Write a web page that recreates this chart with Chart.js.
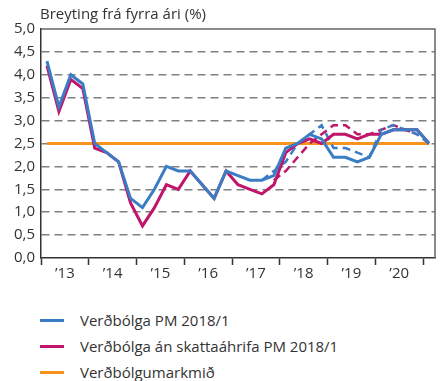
<!DOCTYPE html>
<html>
<head>
<meta charset="utf-8">
<script src="https://cdn.jsdelivr.net/npm/chart.js@4"></script>
<style>
  body { margin: 0; background: #fff; font-family: "Open Sans", sans-serif; }
  #wrap { position: relative; width: 440px; height: 292px; }
  #legend { margin: 15px 0 0 40px; }
  .item { display: flex; align-items: center; height: 26px; font-size: 15px; color: #333; }
  .swatch { width: 24px; height: 3px; margin-right: 16px; }
</style>
</head>
<body>
<div id="wrap"><canvas id="chart"></canvas></div>
<div id="legend"></div>
<script>
// 2013Q1 - 2021Q1, quarterly
const quarters = [
  '2013Q1','2013Q2','2013Q3','2013Q4','2014Q1','2014Q2','2014Q3','2014Q4',
  '2015Q1','2015Q2','2015Q3','2015Q4','2016Q1','2016Q2','2016Q3','2016Q4',
  '2017Q1','2017Q2','2017Q3','2017Q4','2018Q1','2018Q2','2018Q3','2018Q4',
  '2019Q1','2019Q2','2019Q3','2019Q4','2020Q1','2020Q2','2020Q3','2020Q4',
  '2021Q1'
];
const yearLabels = ['\u201913','\u201914','\u201915','\u201916','\u201917','\u201918','\u201919','\u201920'];

const inflation = [4.3, 3.3, 4.0, 3.8, 2.5, 2.3, 2.1, 1.3, 1.1, 1.5, 2.0, 1.9, 1.9, 1.6, 1.3, 1.9,
  1.8, 1.7, 1.7, 1.8, 2.4, 2.5, 2.7, 2.6, 2.2, 2.2, 2.1, 2.2, 2.7, 2.8, 2.8, 2.8, 2.5];
const inflationExTax = [4.2, 3.2, 3.9, 3.7, 2.4, 2.3, 2.1, 1.2, 0.7, 1.1, 1.6, 1.5, 1.9, 1.6, 1.3, 1.9,
  1.6, 1.5, 1.4, 1.6, 2.3, 2.5, 2.6, 2.5, 2.7, 2.7, 2.6, 2.7, 2.7, 2.8, 2.8, 2.8, 2.5];
// previous forecast (dashed)
const inflationPrev = [null, null, null, null, null, null, null, null, null, null, null, null, null, null, null, null,
  null, null, 1.7, 1.9, 2.1, 2.5, 2.7, 2.9, 2.4, 2.4, 2.3, 2.2, 2.8, 2.9, 2.8, 2.7, 2.5];
const inflationExTaxPrev = [null, null, null, null, null, null, null, null, null, null, null, null, null, null, null, null,
  null, null, null, 1.7, 1.9, 2.2, 2.5, 2.7, 2.9, 2.9, 2.7, 2.7, 2.8, 2.9, 2.8, 2.7, null];
const target = quarters.map(() => 2.5);

const BLUE = '#3a7dc4';
const RED = '#c0156b';
const ORANGE = '#f7941d';

// points sit in the middle of each quarter
const pts = arr => arr.map((v, i) => ({ x: i + 0.5, y: v }));

Chart.defaults.font.family = '"Open Sans", sans-serif';
Chart.defaults.font.size = 15;
Chart.defaults.color = '#333';

const frame = {
  id: 'frame',
  afterDatasetsDraw(chart) {
    const { ctx, chartArea: a } = chart;
    ctx.save();
    ctx.strokeStyle = '#666';
    ctx.lineWidth = 1.5;
    ctx.beginPath();
    ctx.moveTo(a.left, a.top);
    ctx.lineTo(a.right, a.top);
    ctx.lineTo(a.right, a.bottom);
    ctx.stroke();
    ctx.fillStyle = '#333';
    ctx.font = '15px "Open Sans", sans-serif';
    ctx.textBaseline = 'middle';
    ctx.fillText('Breyting frá fyrra ári (%)', a.left - 1, 15);
    ctx.restore();
  }
};

const line = (label, data, color, dashed, width) => ({
  label, data: pts(data), borderColor: color, borderWidth: width || 3,
  borderDash: dashed ? [8, 5] : [], pointRadius: 0, fill: false, tension: 0,
  spanGaps: false
});

new Chart(document.getElementById('chart'), {
  type: 'line',
  data: {
    datasets: [
      line('Verðbólga PM 2018/1', inflation, BLUE),
      line('Verðbólga án skattaáhrifa PM 2018/1', inflationExTax, RED),
      line('Verðbólga PM 2017/4', inflationPrev, BLUE, true, 2.5),
      line('Verðbólga án skattaáhrifa PM 2017/4', inflationExTaxPrev, RED, true, 2.5),
      line('Verðbólgumarkmið', target, ORANGE)
    ]
  },
  plugins: [frame],
  options: {
    responsive: true,
    maintainAspectRatio: false,
    animation: false,
    layout: { padding: { top: 29, right: 5, bottom: 9, left: 0 } },
    plugins: { legend: { display: false }, tooltip: { enabled: false } },
    scales: {
      x: {
        type: 'linear',
        min: 0,
        max: quarters.length,
        afterBuildTicks: s => {
          const t = [];
          for (let v = 0; v < quarters.length; v += 2) t.push({ value: v });
          s.ticks = t;
        },
        ticks: {
          autoSkip: false, maxRotation: 0, padding: 0,
          callback: v => (v % 4 === 2 ? yearLabels[(v - 2) / 4] : '')
        },
        grid: {
          drawOnChartArea: false, tickLength: 7, tickWidth: 1.5,
          tickColor: c => (c.tick && c.tick.value % 4 === 0 ? '#333' : 'rgba(0,0,0,0)')
        },
        border: { color: '#333', width: 1.5 }
      },
      y: {
        min: 0,
        max: 5,
        afterFit: s => { s.width = 41; },
        ticks: {
          stepSize: 0.5, padding: 6,
          callback: v => v.toFixed(1).replace('.', ',')
        },
        grid: {
          drawTicks: false, lineWidth: 1.5,
          color: c => (c.tick && (c.tick.value === 0 || c.tick.value === 5) ? 'rgba(0,0,0,0)' : '#808080')
        },
        border: { color: '#333', width: 1.5, dash: [8, 5] }
      }
    }
  }
});

// legend, three main series
const legendItems = [
  ['Verðbólga PM 2018/1', BLUE],
  ['Verðbólga án skattaáhrifa PM 2018/1', RED],
  ['Verðbólgumarkmið', ORANGE]
];
document.getElementById('legend').innerHTML = legendItems.map(([t, c]) =>
  `<div class="item"><span class="swatch" style="background:${c}"></span>${t}</div>`).join('');
</script>
</body>
</html>
